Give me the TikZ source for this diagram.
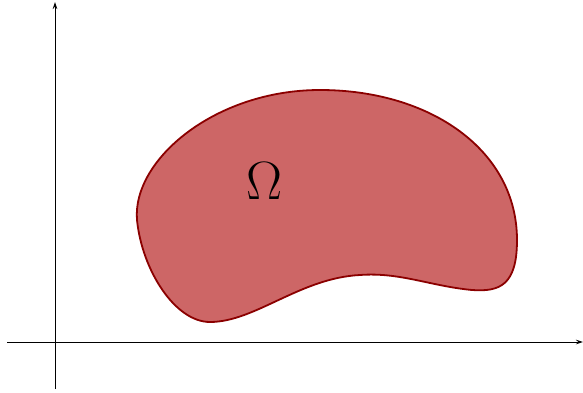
\documentclass[tikz,border=0pt]{standalone}
\usetikzlibrary{arrows.meta}
\definecolor{blobfill}{RGB}{205,102,102}
\definecolor{blobline}{RGB}{139,0,0}
\tikzset{
  axis/.style={line width=0.8pt,-{Stealth[length=7pt,width=4.5pt]}},
  blob/.style={draw=blobline,fill=blobfill,line width=1.8pt}
}
\begin{document}
\begin{tikzpicture}[x=1pt,y=-1pt]
\useasboundingbox (0,0) rectangle (583,393);
\coordinate (ys) at (55,389);
\coordinate (ye) at (55,2);
\coordinate (xs) at (7,342);
\coordinate (xe) at (583,342);
\draw[axis] (ys) -- (ye);
\draw[axis] (xs) -- (xe);
\draw[blob] (137,220)
  .. controls (132,160) and (215,90) .. (320,90)
  .. controls (430,90) and (517,150) .. (517,240)
  .. controls (517,285) and (500,292) .. (472,290)
  .. controls (430,286) and (400,272) .. (360,275)
  .. controls (300,278) and (255,322) .. (210,322)
  .. controls (175,322) and (142,270) .. (137,220) -- cycle;
\node[font=\huge,scale=2.6] (omega) at (264,181) {$\Omega$};
\end{tikzpicture}
\end{document}
